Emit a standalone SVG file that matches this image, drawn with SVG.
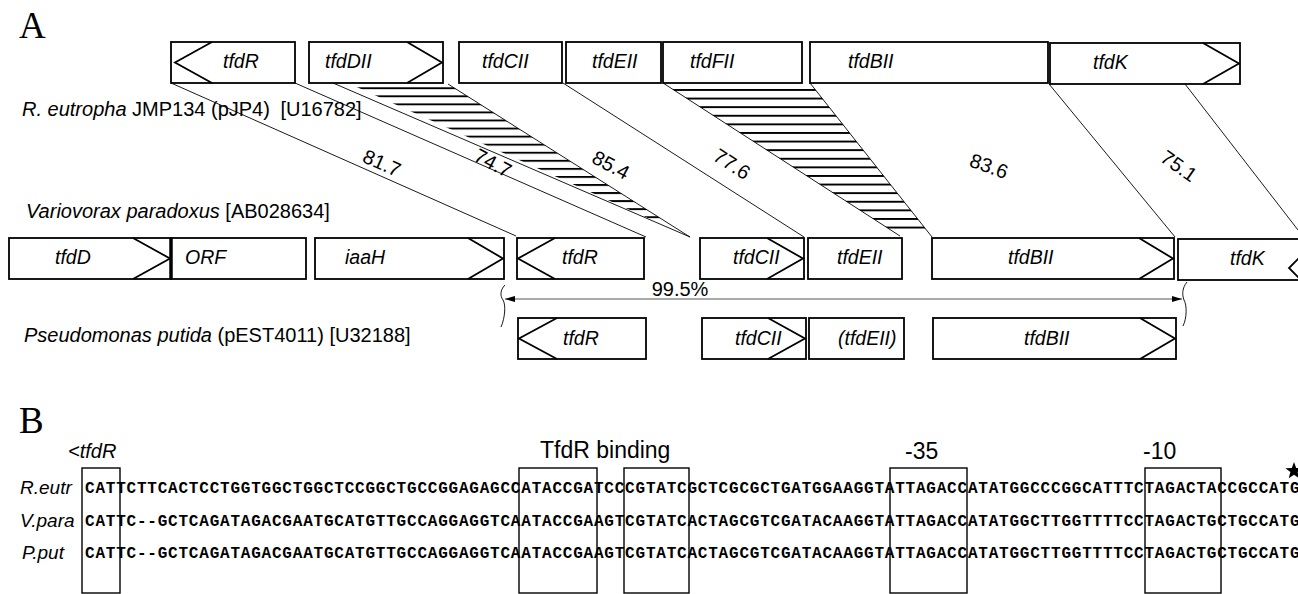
<svg xmlns="http://www.w3.org/2000/svg" width="1298" height="594" viewBox="0 0 1298 594">
<defs>
<style>
.box{fill:#fff;stroke:#000;stroke-width:1.8}
.chev{fill:none;stroke:#000;stroke-width:1.8}
.gl{font-family:"Liberation Sans",Arial,sans-serif;font-style:italic;font-size:19.5px;fill:#000}
.sp{font-family:"Liberation Sans",Arial,sans-serif;font-size:20px;fill:#000}
.it{font-style:italic}
.conn{stroke:#000;stroke-width:0.9;fill:none}
.num{font-family:"Liberation Sans",Arial,sans-serif;font-size:20px;text-anchor:middle;fill:#000}
.seq{font-family:"Liberation Mono","Courier New",monospace;font-weight:bold;font-size:16px;fill:#000}
.sbox{fill:none;stroke:#000;stroke-width:1.4}
.panel{font-family:"Liberation Serif","Times New Roman",serif;font-size:37px;fill:#000}
.lab{font-family:"Liberation Sans",Arial,sans-serif;font-size:23px;fill:#000}
</style>
<pattern id="h1" patternUnits="userSpaceOnUse" x="0" y="87.3" width="20" height="8.06"><rect x="0" y="0" width="20" height="1.9" fill="#000"/></pattern>
<pattern id="h2" patternUnits="userSpaceOnUse" x="0" y="89" width="20" height="8.6"><rect x="0" y="0" width="20" height="1.9" fill="#000"/></pattern>
<clipPath id="c1"><rect x="0" y="84" width="1298" height="135"/></clipPath>
<clipPath id="c2"><rect x="0" y="84" width="1298" height="146"/></clipPath>
<marker id="ah" viewBox="0 0 10 6" refX="10" refY="3" markerWidth="10" markerHeight="6" markerUnits="userSpaceOnUse" orient="auto-start-reverse"><path d="M0,0 L10,3 L0,6 Z" fill="#000"/></marker>
</defs>
<rect width="1298" height="594" fill="#fff"/>

<text class="panel" x="19" y="38">A</text>
<text class="panel" x="19" y="433">B</text>

<g id="connectors">
<polygon points="350,84 448,84 690,237" fill="url(#h1)" clip-path="url(#c1)"/>
<polygon points="663,83 810,83 932,237 900,236" fill="url(#h2)" clip-path="url(#c2)"/>
<line class="conn" x1="171" y1="83" x2="516" y2="236"/>
<line class="conn" x1="295" y1="83" x2="646" y2="237"/>
<line class="conn" x1="333" y1="83" x2="690" y2="237"/>
<line class="conn" x1="448" y1="84" x2="690" y2="237"/>
<line class="conn" x1="563" y1="83" x2="804" y2="237"/>
<line class="conn" x1="663" y1="83" x2="900" y2="236"/>
<line class="conn" x1="810" y1="83" x2="932" y2="237"/>
<line class="conn" x1="1049" y1="84" x2="1175" y2="237"/>
<line class="conn" x1="1185" y1="84" x2="1298" y2="230"/>
<line x1="505" y1="299" x2="1182" y2="299" stroke="#555" stroke-width="1" marker-start="url(#ah)" marker-end="url(#ah)"/>
<path class="conn" d="M505,285 C500,290 500,296 503,300 C506,305 505,318 501,327" stroke-width="1.1"/>
<path class="conn" d="M1187,282 C1182,288 1182,295 1184,300 C1187,305 1187,318 1183,326" stroke-width="1.1"/>
</g>

<g id="labels-A">
<text class="num" transform="translate(382,163) rotate(24)" y="7">81.7</text>
<text class="num" transform="translate(493,163) rotate(28)" y="7">74.7</text>
<text class="num" transform="translate(611,165) rotate(28)" y="7">85.4</text>
<text class="num" transform="translate(732,164) rotate(33)" y="7">77.6</text>
<text class="num" transform="translate(989,166) rotate(20)" y="7">83.6</text>
<text class="num" transform="translate(1179,166) rotate(35)" y="7">75.1</text>
<text class="num" x="680" y="296">99.5%</text>
<text class="sp" x="22" y="116"><tspan class="it">R. eutropha</tspan> JMP134 (pJP4)  <tspan dx="5">[U16782]</tspan></text>
<text class="sp" x="26" y="218"><tspan class="it">Variovorax paradoxus</tspan> [AB028634]</text>
<text class="sp" x="24" y="342"><tspan class="it">Pseudomonas putida</tspan> (pEST4011) [U32188]</text>
</g>

<g id="top-tfdR"><rect class="box" x="171" y="42" width="124" height="41"/><polyline class="chev" points="212,42 175,62.5 212,83"/><text class="gl" x="223" y="68">tfdR</text></g>
<g id="top-tfdDII"><rect class="box" x="309" y="42" width="134" height="41"/><polyline class="chev" points="407,42 442,62.5 407,83"/><text class="gl" x="325" y="68">tfdDII</text></g>
<g id="top-tfdCII"><rect class="box" x="459" y="42" width="103" height="41"/><text class="gl" x="482" y="68">tfdCII</text></g>
<g id="top-tfdEII"><rect class="box" x="566" y="42" width="95" height="41"/><text class="gl" x="592" y="68">tfdEII</text></g>
<g id="top-tfdFII"><rect class="box" x="663" y="42" width="139" height="41"/><text class="gl" x="690" y="68">tfdFII</text></g>
<g id="top-tfdBII"><rect class="box" x="810" y="42" width="238" height="41"/><text class="gl" x="848" y="68">tfdBII</text></g>
<g id="top-tfdK"><rect class="box" x="1050" y="43" width="190" height="41"/><polyline class="chev" points="1203,43 1239,63.5 1203,84"/><text class="gl" x="1093" y="69">tfdK</text></g>

<g id="mid-tfdD"><rect class="box" x="9" y="238" width="162" height="41"/><polyline class="chev" points="133,238 170,258.5 133,279"/><text class="gl" x="55" y="264">tfdD</text></g>
<g id="mid-ORF"><rect class="box" x="171" y="238" width="135" height="41"/><line x1="171" y1="238" x2="171" y2="279" stroke="#000" stroke-width="3.5"/><text class="gl" x="185" y="264">ORF</text></g>
<g id="mid-iaaH"><rect class="box" x="315" y="238" width="189" height="41"/><polyline class="chev" points="468,238 503,258.5 468,279"/><text class="gl" x="345" y="264">iaaH</text></g>
<g id="mid-tfdR"><rect class="box" x="517" y="238" width="127" height="41"/><polyline class="chev" points="555,238 518,258.5 555,279"/><text class="gl" x="562" y="264">tfdR</text></g>
<g id="mid-tfdCII"><rect class="box" x="700" y="238" width="104" height="41"/><polyline class="chev" points="767,238 803,258.5 767,279"/><text class="gl" x="733" y="264">tfdCII</text></g>
<g id="mid-tfdEII"><rect class="box" x="808" y="238" width="94" height="41"/><text class="gl" x="837" y="264">tfdEII</text></g>
<g id="mid-tfdBII"><rect class="box" x="932" y="238" width="242" height="41"/><polyline class="chev" points="1139,238 1173,258.5 1139,279"/><text class="gl" x="1008" y="264">tfdBII</text></g>
<g id="mid-tfdK"><rect class="box" x="1178" y="239" width="130" height="41"/><polyline class="chev" points="1299,258 1289,268 1299,278"/><text class="gl" x="1230" y="265">tfdK</text></g>

<g id="bot-tfdR"><rect class="box" x="518" y="318" width="128" height="41"/><polyline class="chev" points="557,318 519,338.5 557,359"/><text class="gl" x="563" y="345">tfdR</text></g>
<g id="bot-tfdCII"><rect class="box" x="702" y="318" width="104" height="41"/><polyline class="chev" points="768,318 805,338.5 768,359"/><text class="gl" x="735" y="345">tfdCII</text></g>
<g id="bot-tfdEII"><rect class="box" x="809" y="318" width="95" height="41"/><text class="gl" x="838" y="345">(tfdEII)</text></g>
<g id="bot-tfdBII"><rect class="box" x="933" y="318" width="243" height="41"/><polyline class="chev" points="1140,318 1175,338.5 1140,359"/><text class="gl" x="1024" y="345">tfdBII</text></g>

<g id="panel-B">
<text class="gl" x="68" y="458" style="font-size:20px">&lt;tfdR</text>
<text class="lab" x="540" y="458">TfdR binding</text>
<text class="lab" x="905" y="459">-35</text>
<text class="lab" x="1143" y="459">-10</text>
<polygon points="1294,462 1296.2,467.9 1302.6,468.2 1297.6,472.1 1299.3,478.3 1294,474.8 1288.7,478.3 1290.4,472.1 1285.4,468.2 1291.8,467.9" fill="#000"/>
<text class="gl" x="20" y="494" style="font-size:19px">R.eutr</text>
<text class="gl" x="20" y="527" style="font-size:19px">V.para</text>
<text class="gl" x="22" y="559" style="font-size:19px">P.put</text>
<text class="seq" x="85" y="493" textLength="1214.5" lengthAdjust="spacing">CATTCTTCACTCCTGGTGGCTGGCTCCGGCTGCCGGAGAGCCATACCGATCCCGTATCGCTCGCGCTGATGGAAGGTATTAGACCATATGGCCCGGCATTTCTAGACTACCGCCATG</text>
<text class="seq" x="85" y="526" textLength="1214.5" lengthAdjust="spacing">CATTC--GCTCAGATAGACGAATGCATGTTGCCAGGAGGTCAATACCGAAGTCGTATCACTAGCGTCGATACAAGGTATTAGACCATATGGCTTGGTTTTCCTAGACTGCTGCCATG</text>
<text class="seq" x="85" y="558" textLength="1214.5" lengthAdjust="spacing">CATTC--GCTCAGATAGACGAATGCATGTTGCCAGGAGGTCAATACCGAAGTCGTATCACTAGCGTCGATACAAGGTATTAGACCATATGGCTTGGTTTTCCTAGACTGCTGCCATG</text>
<rect class="sbox" x="82" y="468" width="38" height="125"/>
<rect class="sbox" x="519" y="468" width="78" height="125"/>
<rect class="sbox" x="624" y="468" width="65" height="125"/>
<rect class="sbox" x="890" y="468" width="77" height="125"/>
<rect class="sbox" x="1145" y="468" width="76" height="125"/>
</g>
</svg>
